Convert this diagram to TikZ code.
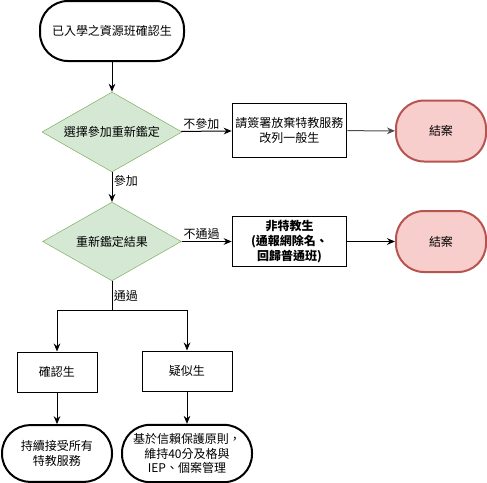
\documentclass[tikz,border=0pt]{standalone}
\usepackage{fontspec}
\setmainfont{Noto Sans CJK TC}
\usetikzlibrary{shapes.geometric,arrows.meta}

\definecolor{decfill}{HTML}{D5E8D4}
\definecolor{decline}{HTML}{82B366}
\definecolor{endfill}{HTML}{F8CECC}
\definecolor{endline}{HTML}{B85450}

\tikzset{
  base/.style={font=\fontsize{9}{11}\selectfont, align=center, inner sep=1pt},
  term/.style={base, draw, line width=1.5pt, rounded corners=21pt},
  decision/.style={base, diamond, aspect=1.75, draw=decline, fill=decfill, inner sep=0pt},
  stepbox/.style={base, draw, rectangle, line width=0.75pt},
  closing/.style={term, draw=endline, fill=endfill},
  flow/.style={-{Stealth[length=6pt,width=5pt]}, line width=0.75pt},
  cond/.style={font=\fontsize{9}{11}\selectfont, inner sep=1pt}
}

\begin{document}
\begin{tikzpicture}[x=0.75pt, y=-0.75pt]
            \useasboundingbox (0,0) rectangle (487,483);

            % Inicio
            \node[term, minimum width=108pt, minimum height=45pt] (start) at (112,31) {已入學之資源班確認生};

            % Primera decisión
            \node[decision, minimum width=105pt, minimum height=60pt] (choose) at (112,132) {選擇參加重新鑑定};
            \node[stepbox, minimum width=86pt, minimum height=41pt] (waive) at (289.5,130.5) {請簽署放棄特教服務\\改列一般生};
            \node[closing, minimum width=67.5pt, minimum height=45.75pt] (endA) at (441,131) {結案};

            % Segunda decisión
            \node[decision, minimum width=104pt, minimum height=59pt] (result) at (112,241.5) {重新鑑定結果};
            \node[stepbox, minimum width=86pt, minimum height=38pt, font=\fontsize{9}{11}\selectfont\bfseries] (notsped) at (289.5,241.5) {非特教生\\(通報網除名、\\回歸普通班)};
            \node[closing, minimum width=67.5pt, minimum height=45.75pt] (endB) at (441,241.5) {結案};

            % Ramas inferiores
            \coordinate (split) at (112,310);
            \node[stepbox, minimum width=60pt, minimum height=30pt] (confirmed) at (57,372) {確認生};
            \node[stepbox, minimum width=67.5pt, minimum height=30pt] (suspected) at (187,371) {疑似生};
            \node[term, minimum width=82.5pt, minimum height=42.5pt] (keep) at (57,453.5) {持續接受所有\\特教服務};
            \node[term, minimum width=97.5pt, minimum height=43pt] (trust) at (187,453.5) {基於信賴保護原則，\\維持40分及格與\\IEP、個案管理};

            % Flechas
            \draw[flow] (start) -- (choose);
            \draw[flow] (choose) -- node[cond, above, pos=0.4] {不參加} (waive);
            \draw[flow, black!70] (waive) -- (endA);
            \draw[flow] (choose) -- node[cond, right, pos=0.3] {參加} (result);
            \draw[flow] (result) -- node[cond, above, pos=0.4] {不通過} (notsped);
            \draw[flow] (notsped) -- (endB);
            \draw[line width=0.75pt] (result) -- node[cond, right, pos=0.5] {通過} (split);
            \draw[flow] (split) -| (confirmed);
            \draw[flow] (split) -| (suspected);
            \draw[flow] (confirmed) -- (keep);
            \draw[flow] (suspected) -- (trust);
        \end{tikzpicture}
\end{document}
